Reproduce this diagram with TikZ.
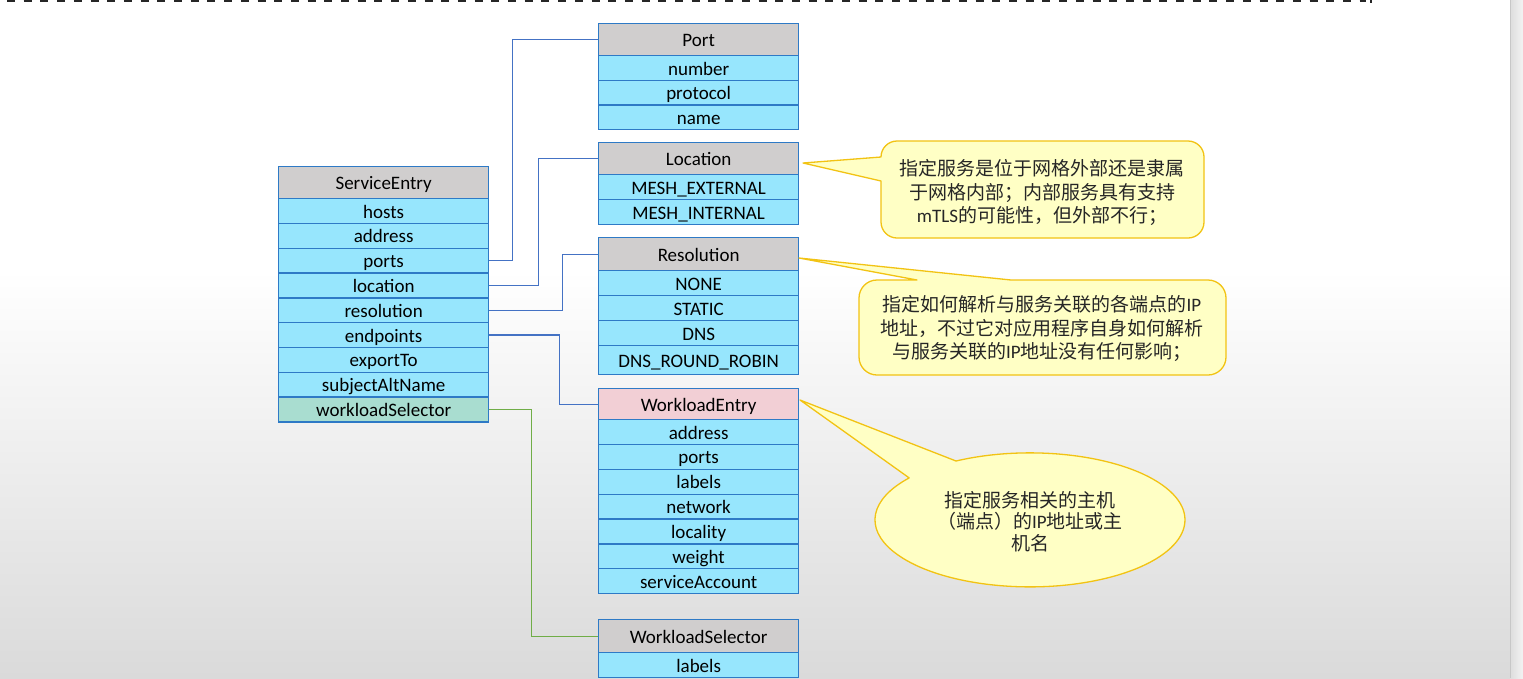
\documentclass[tikz,border=0pt]{standalone}
\usepackage{fontspec}
\setmainfont{Carlito}
\newfontfamily\lab{Carlito}
\newfontfamily\cjk{Noto Sans CJK SC}
\definecolor{hdrgray}{HTML}{D0CECE}
\definecolor{rowcyan}{HTML}{97E6FD}
\definecolor{hdrpink}{HTML}{F2CFD5}
\definecolor{rowgreen}{HTML}{A9DDD0}
\definecolor{cellborder}{HTML}{2E7AC6}
\definecolor{connblue}{HTML}{4472C4}
\definecolor{conngreen}{HTML}{70AD47}
\definecolor{callfill}{HTML}{FFFFC5}
\definecolor{callborder}{HTML}{F2C313}
\definecolor{bggray}{HTML}{DADADA}
\definecolor{stripA}{HTML}{DDDDDD}
\definecolor{stripB}{HTML}{F3F3F3}
\tikzset{
  cell/.style={draw=cellborder, line width=1.3pt, inner sep=0pt, anchor=north west,
    font=\lab\fontsize{19}{22}\selectfont, text=black, text height=14pt, text depth=0pt},
  lw/.style={minimum width=210pt},
  rw/.style={minimum width=200pt},
  hdr/.style={fill=hdrgray},
  hdrp/.style={fill=hdrpink},
  rowc/.style={fill=rowcyan},
  rowg/.style={fill=rowgreen},
  connb/.style={draw=connblue, line width=1.3pt},
  conng/.style={draw=conngreen, line width=1.3pt},
  callout/.style={fill=callfill, draw=callborder, line width=1.3pt, line join=round},
  ctext/.style={align=center, inner sep=0pt, text=black!85},
}
\begin{document}
\begin{tikzpicture}[x=1pt,y=-1pt]
\useasboundingbox (0,0) rectangle (1523,678);
% background
\fill[white] (0,0) rectangle (1523,271);
\shade[top color=white, bottom color=bggray] (0,270) rectangle (1523,678);
\shade[left color=stripA, right color=stripB] (1510,0) rectangle (1523,678);
\draw[stripA!90!black, line width=1pt] (1510.5,0) -- (1510.5,678);
% top dashed line
\draw[black!85, line width=2pt, dash pattern=on 8pt off 8.7pt] (7,1) -- (1366,1);
\draw[black!85, line width=1.5pt] (1371,0) -- (1371,3);

% ServiceEntry table
\node[cell,lw,hdr,minimum height=32pt] (se) at (278,166) {ServiceEntry};
\node[cell,lw,rowc,minimum height=24.8pt] (se-hosts) at (278,198) {hosts};
\node[cell,lw,rowc,minimum height=24.8pt] (se-address) at (278,222.8) {address};
\node[cell,lw,rowc,minimum height=24.8pt] (se-ports) at (278,247.6) {ports};
\node[cell,lw,rowc,minimum height=24.8pt] (se-location) at (278,272.4) {location};
\node[cell,lw,rowc,minimum height=24.8pt] (se-resolution) at (278,297.2) {resolution};
\node[cell,lw,rowc,minimum height=24.8pt] (se-endpoints) at (278,322) {endpoints};
\node[cell,lw,rowc,minimum height=24.8pt] (se-export) at (278,346.8) {exportTo};
\node[cell,lw,rowc,minimum height=24.8pt] (se-san) at (278,371.6) {subjectAltName};
\node[cell,lw,rowg,minimum height=24.8pt] (se-ws) at (278,396.4) {workloadSelector};

% Port table
\node[cell,rw,hdr,minimum height=32pt] (port) at (598,23) {Port};
\node[cell,rw,rowc,minimum height=24.7pt] (port-number) at (598,55) {number};
\node[cell,rw,rowc,minimum height=24.7pt] (port-protocol) at (598,79.7) {protocol};
\node[cell,rw,rowc,minimum height=24.7pt] (port-name) at (598,104.4) {name};

% Location table
\node[cell,rw,hdr,minimum height=32pt] (loc) at (598,142) {Location};
\node[cell,rw,rowc,minimum height=25pt] (loc-ext) at (598,174) {MESH\_EXTERNAL};
\node[cell,rw,rowc,minimum height=25pt] (loc-int) at (598,199) {MESH\_INTERNAL};

% Resolution table
\node[cell,rw,hdr,minimum height=33pt] (res) at (598,237) {Resolution};
\node[cell,rw,rowc,minimum height=25pt] (res-none) at (598,270) {NONE};
\node[cell,rw,rowc,minimum height=25pt] (res-static) at (598,295) {STATIC};
\node[cell,rw,rowc,minimum height=25pt] (res-dns) at (598,320) {DNS};
\node[cell,rw,rowc,minimum height=29pt] (res-rr) at (598,345) {DNS\_ROUND\_ROBIN};

% WorkloadEntry table
\node[cell,rw,hdrp,minimum height=31pt] (we) at (598,388) {WorkloadEntry};
\node[cell,rw,rowc,minimum height=24.86pt] (we-address) at (598,419) {address};
\node[cell,rw,rowc,minimum height=24.86pt] (we-ports) at (598,443.86) {ports};
\node[cell,rw,rowc,minimum height=24.86pt] (we-labels) at (598,468.72) {labels};
\node[cell,rw,rowc,minimum height=24.86pt] (we-network) at (598,493.58) {network};
\node[cell,rw,rowc,minimum height=24.86pt] (we-locality) at (598,518.44) {locality};
\node[cell,rw,rowc,minimum height=24.86pt] (we-weight) at (598,543.3) {weight};
\node[cell,rw,rowc,minimum height=24.86pt] (we-sa) at (598,568.16) {serviceAccount};

% WorkloadSelector table
\node[cell,rw,hdr,minimum height=33pt] (wsel) at (598,619) {WorkloadSelector};
\node[cell,rw,rowc,minimum height=25pt] (wsel-labels) at (598,652) {labels};

% connectors
\draw[connb] (se-ports.east) -- ++(23.5,0) |- (port.west);
\draw[connb] (se-location.east) -- ++(49,0) |- (loc.west);
\draw[connb] (se-resolution.east) -- ++(73,0) |- (res.west);
\draw[connb] (se-endpoints.east) -- ++(70,0) |- (we.west);
\draw[conng] (se-ws.east) -- ++(42,0) |- (wsel.west);

% callout: location
\draw[callout] (881,157) arc[start angle=180, end angle=90, radius=16pt]
  -- (1188,141) arc[start angle=90, end angle=0, radius=16pt]
  -- (1204,222) arc[start angle=0, end angle=-90, radius=16pt]
  -- (897,238) arc[start angle=-90, end angle=-180, radius=16pt]
  -- (881,181) -- (803,163) -- cycle;
\node[ctext, font=\cjk\fontsize{19}{23.5}\selectfont] (loctxt) at (1042,192.5)
  {指定服务是位于网格外部还是隶属\\于网格内部；内部服务具有支持\\{\lab mTLS}的可能性，但外部不行；};

% callout: resolution
\draw[callout] (1011,280) -- (1208,280) arc[start angle=90, end angle=0, radius=18pt]
  -- (1226,357) arc[start angle=0, end angle=-90, radius=18pt]
  -- (877,375) arc[start angle=-90, end angle=-180, radius=18pt]
  -- (859,298) arc[start angle=180, end angle=90, radius=18pt]
  -- (917,280) -- (799,258) -- cycle;
\node[ctext, font=\cjk\fontsize{19}{23.5}\selectfont] (restxt) at (1042,328.5)
  {指定如何解析与服务关联的各端点的{\lab IP}\\地址，不过它对应用程序自身如何解析\\与服务关联的{\lab IP}地址没有任何影响；};

% callout: workload entry
\draw[callout] (956,461) arc[start angle=118.5, end angle=-218.8, x radius=155pt, y radius=67pt]
  -- (800,400) -- cycle;
\node[ctext, font=\cjk\fontsize{19}{21.5}\selectfont] (wetxt) at (1030,521.5)
  {指定服务相关的主机\\（端点）的{\lab IP}地址或主\\机名};
\end{tikzpicture}
\end{document}
